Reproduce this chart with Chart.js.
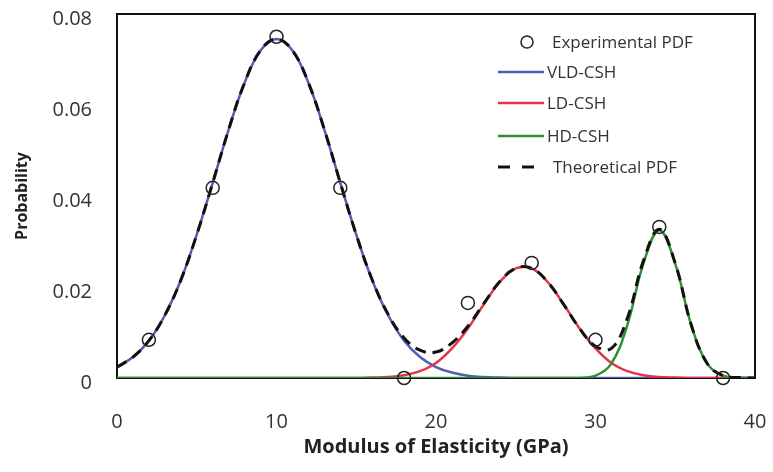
<!DOCTYPE html>
<html>
<head>
<meta charset="utf-8">
<script src="https://cdn.jsdelivr.net/npm/chart.js@4/dist/chart.umd.min.js"></script>
<style>
  html, body { margin: 0; padding: 0; background: #fff; }
  #wrap { width: 773px; height: 472px; }
</style>
</head>
<body>
<div id="wrap"><canvas id="pdfChart" width="773" height="472"></canvas></div>
<script>
// modulus values (GPa) for the fitted curves
const modulus = [0, 1, 2, 3, 4, 5, 6, 7, 8, 9, 10, 11, 12, 13, 14, 15, 16, 17, 18, 19, 20,
  21, 22, 23, 24, 25, 26, 27, 28, 29, 30, 31, 32, 33, 34, 35, 36, 37, 38, 39, 40];

const vldCsh = [0.0024, 0.0046, 0.0082, 0.0138, 0.0215, 0.0315, 0.0429, 0.0546, 0.0649, 0.0720, 0.0745,
  0.0720, 0.0649, 0.0546, 0.0429, 0.0315, 0.0215, 0.0138, 0.0082, 0.0046, 0.0024,
  0.0012, 0.0005, 0.0002, 0.0001, 0, 0, 0, 0, 0, 0, 0, 0, 0, 0, 0, 0, 0, 0, 0, 0];

const ldCsh = [0, 0, 0, 0, 0, 0, 0, 0, 0, 0, 0, 0, 0, 0, 0, 0,
  0.0001, 0.0002, 0.0006, 0.0015, 0.0033, 0.0065, 0.0109, 0.0162, 0.0211, 0.0241,
  0.0241, 0.0211, 0.0162, 0.0109, 0.0065, 0.0033, 0.0015, 0.0006, 0.0002, 0.0001,
  0, 0, 0, 0, 0];

const hdCsh = [0, 0, 0, 0, 0, 0, 0, 0, 0, 0, 0, 0, 0, 0, 0, 0, 0, 0, 0, 0, 0,
  0, 0, 0, 0, 0, 0, 0, 0, 0,
  0.0005, 0.0032, 0.0117, 0.0251, 0.0325, 0.0251, 0.0117, 0.0032, 0.0005, 0.0001, 0];

const theoretical = [0.0024, 0.0046, 0.0082, 0.0138, 0.0215, 0.0315, 0.0429, 0.0546, 0.0649, 0.0720, 0.0745,
  0.0720, 0.0649, 0.0546, 0.0429, 0.0315, 0.0216, 0.0140, 0.0088, 0.0061, 0.0057,
  0.0077, 0.0114, 0.0164, 0.0212, 0.0241, 0.0241, 0.0211, 0.0162, 0.0109, 0.0070,
  0.0065, 0.0132, 0.0257, 0.0327, 0.0252, 0.0117, 0.0032, 0.0005, 0.0001, 0];

// experimental histogram points
const expModulus = [2, 6, 10, 14, 18, 22, 26, 30, 34, 38];
const expProb = [0.0084, 0.0418, 0.0750, 0.0418, 0, 0.0165, 0.0253, 0.0084, 0.0332, 0];

const xTicks = [0, 10, 20, 30, 40];
const yTicks = [0, 0.02, 0.04, 0.06, 0.08];

const BLUE = '#4f5db5';
const RED = '#e2354a';
const GREEN = '#2f8f35';
const TEXT = '#333333';

const toPts = (xs, ys) => xs.map((x, i) => ({ x: x, y: ys[i] }));

// frame box around the plot area
const frameBox = {
  id: 'frameBox',
  beforeDatasetsDraw(chart) {
    const { ctx, chartArea: a } = chart;
    ctx.save();
    ctx.strokeStyle = '#111';
    ctx.lineWidth = 2;
    ctx.strokeRect(a.left, a.top, a.right - a.left, a.bottom - a.top);
    ctx.restore();
  }
};

// legend inside the plot, top right
const insideLegend = {
  id: 'insideLegend',
  afterDraw(chart) {
    const ctx = chart.ctx;
    ctx.save();
    ctx.font = '17px "Open Sans"';
    ctx.fillStyle = TEXT;
    ctx.textBaseline = 'middle';

    ctx.strokeStyle = '#222';
    ctx.lineWidth = 1.5;
    ctx.beginPath();
    ctx.arc(527, 42, 6, 0, Math.PI * 2);
    ctx.stroke();
    ctx.fillText('Experimental PDF', 552, 43);

    const rows = [
      { c: BLUE, y: 72, t: 'VLD-CSH' },
      { c: RED, y: 103, t: 'LD-CSH' },
      { c: GREEN, y: 136, t: 'HD-CSH' }
    ];
    rows.forEach(r => {
      ctx.strokeStyle = r.c;
      ctx.lineWidth = 2.5;
      ctx.beginPath();
      ctx.moveTo(498, r.y);
      ctx.lineTo(544, r.y);
      ctx.stroke();
      ctx.fillText(r.t, 547, r.y + 1);
    });

    ctx.strokeStyle = '#111';
    ctx.lineWidth = 3;
    ctx.setLineDash([12, 12]);
    ctx.beginPath();
    ctx.moveTo(498, 167);
    ctx.lineTo(536, 167);
    ctx.stroke();
    ctx.setLineDash([]);
    ctx.fillText('Theoretical PDF', 553, 168);
    ctx.restore();
  }
};

new Chart(document.getElementById('pdfChart').getContext('2d'), {
  type: 'line',
  data: {
    datasets: [
      {
        label: 'Experimental PDF',
        data: toPts(expModulus, expProb),
        showLine: false,
        pointStyle: 'circle',
        pointRadius: 6.5,
        pointBorderWidth: 1.5,
        pointBorderColor: '#222',
        pointBackgroundColor: 'rgba(0,0,0,0)',
        clip: false,
        order: 0
      },
      {
        label: 'VLD-CSH',
        data: toPts(modulus, vldCsh),
        borderColor: BLUE,
        borderWidth: 2.5,
        pointRadius: 0,
        tension: 0.4,
        order: 4
      },
      {
        label: 'LD-CSH',
        data: toPts(modulus, ldCsh),
        borderColor: RED,
        borderWidth: 2.5,
        pointRadius: 0,
        tension: 0.4,
        order: 3
      },
      {
        label: 'HD-CSH',
        data: toPts(modulus, hdCsh),
        borderColor: GREEN,
        borderWidth: 2.5,
        pointRadius: 0,
        tension: 0.4,
        order: 2
      },
      {
        label: 'Theoretical PDF',
        data: toPts(modulus, theoretical),
        borderColor: '#111',
        borderWidth: 3,
        borderDash: [11, 7],
        pointRadius: 0,
        tension: 0.4,
        order: 1
      }
    ]
  },
  options: {
    responsive: false,
    animation: false,
    layout: { padding: { top: 14, right: 18, bottom: 0, left: 0 } },
    plugins: { legend: { display: false }, tooltip: { enabled: false } },
    scales: {
      x: {
        type: 'linear',
        min: 0,
        max: 40,
        afterBuildTicks: s => { s.ticks = xTicks.map(v => ({ value: v })); },
        afterFit: s => {
          s.height = 94;
          s.paddingLeft = 0;
          s.paddingRight = 0;
        },
        grid: { display: false, drawTicks: false },
        border: { display: false },
        ticks: { color: TEXT, padding: 32, font: { family: 'Open Sans', size: 20 } },
        title: {
          display: true,
          text: 'Modulus of Elasticity (GPa)',
          color: '#222',
          padding: { top: 0, bottom: 13 },
          font: { family: 'Open Sans', size: 20, weight: 'bold' }
        }
      },
      y: {
        min: 0,
        max: 0.08,
        afterBuildTicks: s => { s.ticks = yTicks.map(v => ({ value: v })); },
        afterFit: s => {
          s.width = 117;
          s.paddingTop = 0;
          s.paddingBottom = 0;
        },
        grid: { display: false, drawTicks: false },
        border: { display: false },
        ticks: {
          color: TEXT,
          padding: 25,
          labelOffset: 5,
          font: { family: 'Open Sans', size: 20 },
          callback: v => String(v)
        },
        title: {
          display: true,
          text: 'Probability',
          color: '#222',
          padding: { top: 13, bottom: 0 },
          font: { family: 'Open Sans', size: 16, weight: 'bold' }
        }
      }
    }
  },
  plugins: [frameBox, insideLegend]
});
</script>
</body>
</html>
